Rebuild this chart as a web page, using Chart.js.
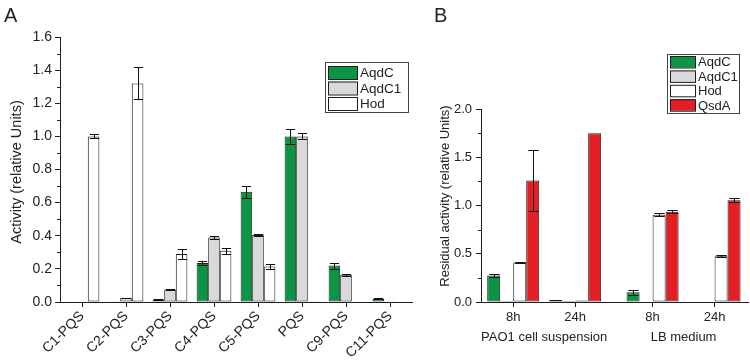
<!DOCTYPE html>
<html>
<head>
<meta charset="utf-8">
<script src="https://cdn.jsdelivr.net/npm/chart.js@4.4.0/dist/chart.umd.min.js"></script>
<style>
  html, body { margin: 0; padding: 0; background: #fff; }
  #wrap { position: relative; width: 750px; height: 360px; overflow: hidden; font-family: 'Liberation Sans', Arial, sans-serif; }
  .panel { position: absolute; top: 0; height: 360px; }
  #pa { left: 0; width: 415px; }
  #pb { left: 415px; width: 335px; }
  .letter { position: absolute; top: 4px; font-size: 20px; color: #222; }
</style>
</head>
<body>
<div id="wrap">
  <div class="panel" id="pa"><canvas id="chartA"></canvas></div>
  <div class="panel" id="pb"><canvas id="chartB"></canvas></div>
  <div class="letter" style="left:4px">A</div>
  <div class="letter" style="left:434px">B</div>
</div>
<script>
/* ── data: panel A ───────────────────────────── */
const categoriesA = ['C1-PQS', 'C2-PQS', 'C3-PQS', 'C4-PQS', 'C5-PQS', 'PQS', 'C9-PQS', 'C11-PQS'];
const aqdcA     = [0, 0.005, 0.015, 0.235, 0.665, 1.0, 0.22, 0.02];
const aqdcErrA  = [0, 0, 0.003, 0.012, 0.035, 0.045, 0.018, 0.003];
const aqdc1A    = [0, 0.025, 0.075, 0.39, 0.405, 1.0, 0.165, 0.005];
const aqdc1ErrA = [0, 0.002, 0.003, 0.01, 0.008, 0.018, 0.005, 0];
const hodA      = [1.0, 1.32, 0.29, 0.31, 0.215, 0.005, 0, 0];
const hodErrA   = [0.012, 0.097, 0.028, 0.018, 0.013, 0, 0, 0];
const yTicksA   = [0, 0.2, 0.4, 0.6, 0.8, 1.0, 1.2, 1.4, 1.6];

/* ── data: panel B ───────────────────────────── */
const timesB      = ['8h', '24h', '8h', '24h'];
const conditionsB = ['PAO1 cell suspension', 'LB medium'];
const aqdcB     = [0.275, 0.02, 0.1, 0];
const aqdcErrB  = [0.015, 0.003, 0.025, 0];
const aqdc1B    = [0.01, 0.01, 0, 0.005];
const aqdc1ErrB = [0, 0, 0, 0];
const hodB      = [0.41, 0.015, 0.905, 0.475];
const hodErrB   = [0.003, 0, 0.015, 0.008];
const qsdaB     = [1.26, 1.75, 0.935, 1.055];
const qsdaErrB  = [0.32, 0, 0.015, 0.022];
const yTicksB   = [0, 0.5, 1.0, 1.5, 2.0];

const COLORS = { AqdC: '#0b9444', AqdC1: '#d9d9d9', Hod: '#ffffff', QsdA: '#e31e25' };
const INK = '#1e1e1e';
const FONT = "'Liberation Sans', Arial, sans-serif";

Chart.defaults.font.family = FONT;
Chart.defaults.font.size = 13;
Chart.defaults.color = '#222';
Chart.defaults.animation = false;

function series(label, values, errors, xs) {
  return {
    label,
    data: xs ? values.map((v, i) => ({ x: xs[i], y: v })) : values,
    values,
    errors,
    backgroundColor: COLORS[label],
    borderColor: INK,
    borderWidth: 1,
    borderSkipped: false
  };
}

// error bars, drawn both ways with caps
const errorBars = {
  id: 'errorBars',
  afterDatasetsDraw(chart) {
    const ctx = chart.ctx, y = chart.scales.y;
    ctx.save();
    ctx.strokeStyle = '#111';
    ctx.lineWidth = 1;
    chart.data.datasets.forEach((ds, i) => {
      chart.getDatasetMeta(i).data.forEach((bar, j) => {
        const e = ds.errors[j];
        if (!e) return;
        const x = Math.round(bar.x) + 0.5;
        const hw = bar.width * 0.4;
        const y1 = Math.round(y.getPixelForValue(ds.values[j] + e)) + 0.5;
        const y2 = Math.round(y.getPixelForValue(ds.values[j] - e)) + 0.5;
        ctx.beginPath();
        ctx.moveTo(x, y1); ctx.lineTo(x, y2);
        ctx.moveTo(x - hw, y1); ctx.lineTo(x + hw, y1);
        ctx.moveTo(x - hw, y2); ctx.lineTo(x + hw, y2);
        ctx.stroke();
      });
    });
    ctx.restore();
  }
};

// short minor ticks on the y axis
function minorTicks(step) {
  return {
    id: 'minorTicks',
    afterDraw(chart) {
      const ctx = chart.ctx, y = chart.scales.y, left = chart.chartArea.left;
      ctx.save();
      ctx.strokeStyle = INK;
      ctx.lineWidth = 1;
      for (let v = step; v < y.max; v += 2 * step) {
        const py = Math.round(y.getPixelForValue(v)) + 0.5;
        ctx.beginPath();
        ctx.moveTo(left - 3, py); ctx.lineTo(left, py);
        ctx.stroke();
      }
      ctx.restore();
    }
  };
}

// rotated y title at a chosen spot
function yTitle(text, x, y, size) {
  return {
    id: 'yTitle',
    afterDraw(chart) {
      const ctx = chart.ctx;
      ctx.save();
      ctx.translate(x, y);
      ctx.rotate(-Math.PI / 2);
      ctx.font = size + 'px ' + FONT;
      ctx.fillStyle = '#222';
      ctx.textAlign = 'center';
      ctx.textBaseline = 'middle';
      ctx.fillText(text, 0, 0);
      ctx.restore();
    }
  };
}

// framed legend inside the plot
function boxLegend(o) {
  return {
    id: 'boxLegend',
    afterDraw(chart) {
      const ctx = chart.ctx;
      ctx.save();
      ctx.fillStyle = '#fff';
      ctx.fillRect(o.x, o.y, o.w, o.h);
      ctx.strokeStyle = '#444';
      ctx.lineWidth = 1;
      ctx.strokeRect(o.x + 0.5, o.y + 0.5, o.w, o.h);
      ctx.font = o.font + 'px ' + FONT;
      ctx.textBaseline = 'middle';
      chart.data.datasets.forEach((ds, i) => {
        const top = o.y + o.pad + i * o.row;
        ctx.fillStyle = ds.backgroundColor;
        ctx.fillRect(o.x + 3, top, o.sw, o.sh);
        ctx.strokeStyle = INK;
        ctx.strokeRect(o.x + 3.5, top + 0.5, o.sw, o.sh);
        ctx.fillStyle = '#222';
        ctx.fillText(ds.label, o.x + o.sw + 6, top + o.sh / 2 + 1);
      });
      ctx.restore();
    }
  };
}

function yAxis(ticks, width, pad, size) {
  return {
    min: ticks[0],
    max: ticks[ticks.length - 1],
    afterBuildTicks: s => { s.ticks = ticks.map(v => ({ value: v })); },
    afterFit: s => { s.width = width; },
    ticks: { padding: pad, font: { size }, callback: v => v.toFixed(1) },
    grid: { drawOnChartArea: false, tickLength: 5, tickColor: INK },
    border: { color: INK }
  };
}

/* ═══════════ PANEL A ═══════════ */
new Chart(document.getElementById('chartA'), {
  type: 'bar',
  data: {
    labels: categoriesA,
    datasets: [
      series('AqdC', aqdcA, aqdcErrA),
      series('AqdC1', aqdc1A, aqdc1ErrA),
      series('Hod', hodA, hodErrA)
    ]
  },
  options: {
    responsive: true,
    maintainAspectRatio: false,
    layout: { padding: { left: 5, right: 3, top: 37, bottom: 0 } },
    datasets: { bar: { categoryPercentage: 0.79, barPercentage: 1 } },
    plugins: { legend: { display: false }, tooltip: { enabled: false } },
    scales: {
      x: {
        afterFit: s => { s.height = 58; },
        ticks: { autoSkip: false, minRotation: 45, maxRotation: 45, padding: 1, font: { size: 14 } },
        grid: { drawOnChartArea: false, offset: false, tickLength: 5, tickColor: INK },
        border: { color: INK }
      },
      y: yAxis(yTicksA, 55, 3, 14)
    }
  },
  plugins: [errorBars, minorTicks(0.1), yTitle('Activity (relative Units)', 17, 172, 14.5),
    boxLegend({ x: 325, y: 62, w: 83, h: 50, pad: 4, row: 15.5, sw: 29, sh: 13, font: 13.5 })]
});

/* ═══════════ PANEL B ═══════════ */
// two time points per condition, with a wider gap between the conditions
const xsB = timesB.map((_, i) => i + (i >= 2 ? 0.25 : 0));

const groupLabels = {
  id: 'groupLabels',
  afterDraw(chart) {
    const ctx = chart.ctx, x = chart.scales.x;
    ctx.save();
    ctx.font = '13px ' + FONT;
    ctx.fillStyle = '#222';
    ctx.textAlign = 'center';
    ctx.textBaseline = 'middle';
    conditionsB.forEach((c, k) => {
      const cx = (x.getPixelForValue(xsB[2 * k]) + x.getPixelForValue(xsB[2 * k + 1])) / 2;
      ctx.fillText(c, cx, chart.chartArea.bottom + 35);
    });
    ctx.restore();
  }
};

new Chart(document.getElementById('chartB'), {
  type: 'bar',
  data: {
    datasets: [
      series('AqdC', aqdcB, aqdcErrB, xsB),
      series('AqdC1', aqdc1B, aqdc1ErrB, xsB),
      series('Hod', hodB, hodErrB, xsB),
      series('QsdA', qsdaB, qsdaErrB, xsB)
    ]
  },
  options: {
    responsive: true,
    maintainAspectRatio: false,
    layout: { padding: { left: 18, right: 2, top: 109, bottom: 0 } },
    datasets: { bar: { categoryPercentage: 0.84, barPercentage: 1 } },
    plugins: { legend: { display: false }, tooltip: { enabled: false } },
    scales: {
      x: {
        type: 'linear',
        offset: false,
        min: -0.52,
        max: 3.79,
        afterBuildTicks: s => { s.ticks = xsB.map(v => ({ value: v })); },
        afterFit: s => { s.height = 58; },
        ticks: { padding: 3, callback: v => timesB[xsB.indexOf(v)] },
        grid: { drawOnChartArea: false, offset: false, tickLength: 5, tickColor: INK },
        border: { color: INK }
      },
      y: yAxis(yTicksB, 48, 4, 13)
    }
  },
  plugins: [errorBars, minorTicks(0.25), groupLabels, yTitle('Residual activity (relative Units)', 30, 196, 13),
    boxLegend({ x: 252, y: 54, w: 72, h: 59, pad: 2, row: 14.4, sw: 25, sh: 11.5, font: 13 })]
});
</script>
</body>
</html>
